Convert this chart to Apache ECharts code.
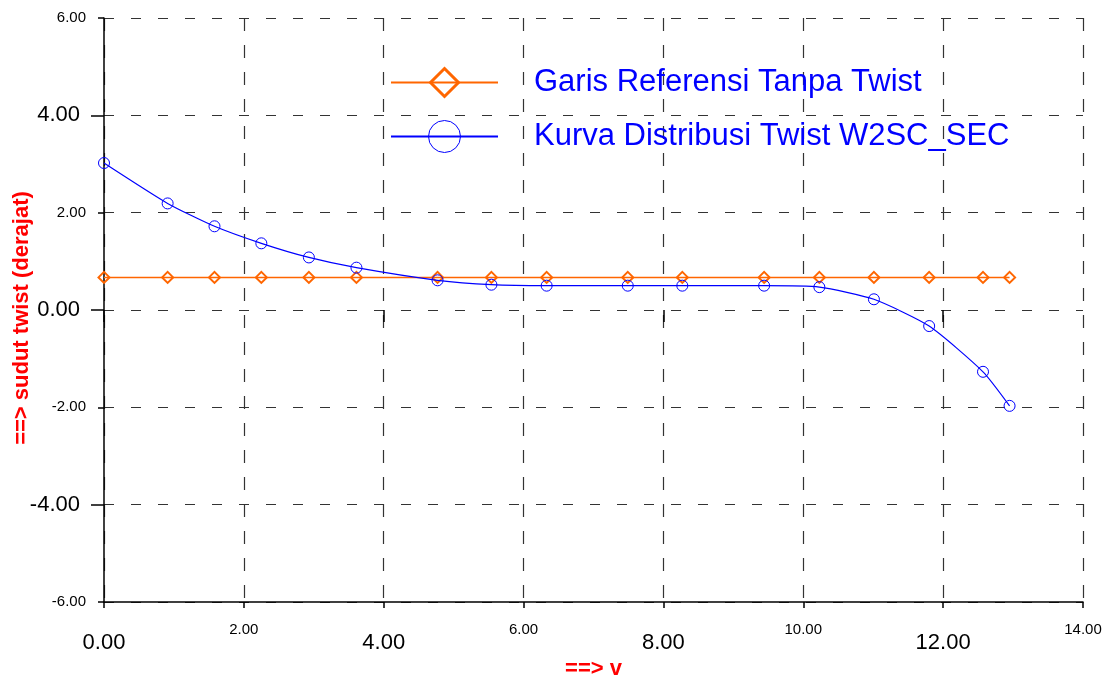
<!DOCTYPE html>
<html><head><meta charset="utf-8">
<script src="https://cdn.jsdelivr.net/npm/echarts@6/dist/echarts.min.js"></script>
<style>html,body{margin:0;padding:0;background:#fff}#c{width:1105px;height:679px}</style>
</head><body><div id="c"></div>
<script>
const xValues = [0, 0.91, 1.58, 2.25, 2.93, 3.61, 4.77, 5.54, 6.33, 7.49, 8.27, 9.44, 10.23, 11.01, 11.80, 12.57, 12.95];
const refValues = [0.67, 0.67, 0.67, 0.67, 0.67, 0.67, 0.67, 0.67, 0.67, 0.67, 0.67, 0.67, 0.67, 0.67, 0.67, 0.67, 0.67];
const twistValues = [3.02, 2.19, 1.72, 1.37, 1.08, 0.87, 0.61, 0.52, 0.50, 0.50, 0.50, 0.50, 0.47, 0.22, -0.33, -1.27, -1.97];
const seriesNames = ['Garis Referensi Tanpa Twist', 'Kurva Distribusi Twist W2SC_SEC'];
const bigTicks = [-4, 0, 4, 8, 12];
const xName = '==> v';
const yName = '==> sudut twist (derajat)';

const FONT = '"Liberation Sans", Arial, sans-serif';
const fmt = v => (bigTicks.indexOf(v) >= 0 ? '{b|' : '{s|') + v.toFixed(2) + '}';
const orange = '#ff6600', blue = '#0000ff';

const chart = echarts.init(document.getElementById('c'), null, {renderer: 'canvas'});
const tickStyle = {color: '#000', width: 1.5};
const nameStyle = {color: '#ff0000', fontWeight: 'bold', fontSize: 22, fontFamily: FONT};

chart.setOption({
  animation: false,
  backgroundColor: '#fff',
  grid: {left: 104, right: 22, top: 18, bottom: 77, containLabel: false, outerBoundsMode: 'none'},
  legend: [
    {
      left: 390, top: 67, padding: 0, itemWidth: 107, itemHeight: 35,
      data: [{name: seriesNames[0], itemStyle: {color: 'rgba(0,0,0,0)', borderColor: orange, borderWidth: 3}}],
      textStyle: {color: blue, fontSize: 31, fontFamily: FONT, padding: [0, 0, 0, 31]}
    },
    {
      left: 390, top: 120, padding: 0, itemWidth: 107, itemHeight: 40,
      data: [{name: seriesNames[1], itemStyle: {color: 'rgba(0,0,0,0)', borderColor: blue, borderWidth: 1}}],
      textStyle: {color: blue, fontSize: 31, fontFamily: FONT, padding: [0, 0, 0, 31]}
    }
  ],
  xAxis: [
    {
      type: 'value', min: 0, max: 14, interval: 2, position: 'bottom',
      name: xName, nameLocation: 'middle', nameGap: 56, nameTextStyle: nameStyle, nameMoveOverlap: false,
      axisLine: {show: true, onZero: false, lineStyle: {color: '#000', width: 1.5}},
      axisTick: {show: true, length: 6, lineStyle: tickStyle},
      splitLine: {show: true, lineStyle: {type: [13, 14], color: '#333', width: 1.2}},
      axisLabel: {
        margin: 20, formatter: fmt, color: '#000', fontFamily: FONT,
        rich: {
          s: {fontSize: 15, fontFamily: FONT, color: '#000'},
          b: {fontSize: 22, fontFamily: FONT, color: '#000', padding: [10, 0, 0, 0]}
        }
      }
    },
    {
      type: 'value', min: 0, max: 14, interval: 2, position: 'bottom',
      axisLine: {show: false},
      axisTick: {show: true, length: 12, customValues: [0, 4, 8, 12], lineStyle: tickStyle},
      splitLine: {show: false}, axisLabel: {show: false}
    }
  ],
  yAxis: [
    {
      type: 'value', min: -6, max: 6, interval: 2, position: 'left',
      name: yName, nameLocation: 'middle', nameGap: 71, nameMoveOverlap: false,
      nameTextStyle: Object.assign({}, nameStyle, {padding: [0, 16, 0, 0]}),
      axisLine: {show: true, onZero: false, lineStyle: {color: '#000', width: 1.5}},
      axisTick: {show: true, length: 6, lineStyle: tickStyle},
      splitLine: {show: true, lineStyle: {type: [10, 17], color: '#333', width: 1.2}},
      axisLabel: {
        margin: 18, formatter: fmt, color: '#000', fontFamily: FONT,
        rich: {
          s: {fontSize: 15, fontFamily: FONT, color: '#000'},
          b: {fontSize: 22, fontFamily: FONT, color: '#000', padding: [0, 6, 0, 0]}
        }
      }
    },
    {
      type: 'value', min: -6, max: 6, interval: 2, position: 'left',
      axisLine: {show: false},
      axisTick: {show: true, length: 13, customValues: [-4, 0, 4], lineStyle: tickStyle},
      splitLine: {show: false}, axisLabel: {show: false}
    }
  ],
  series: [
    {
      name: seriesNames[0], type: 'line',
      data: xValues.map((x, i) => [x, refValues[i]]),
      symbol: 'diamond', symbolSize: 11,
      lineStyle: {color: orange, width: 1.5},
      itemStyle: {color: 'rgba(0,0,0,0)', borderColor: orange, borderWidth: 2},
      z: 2
    },
    {
      name: seriesNames[1], type: 'line', smooth: 0.2,
      data: xValues.map((x, i) => [x, twistValues[i]]),
      symbol: 'circle', symbolSize: 11,
      lineStyle: {color: blue, width: 1.2},
      itemStyle: {color: 'rgba(0,0,0,0)', borderColor: blue, borderWidth: 1},
      z: 3
    }
  ]
});
</script>
</body></html>
